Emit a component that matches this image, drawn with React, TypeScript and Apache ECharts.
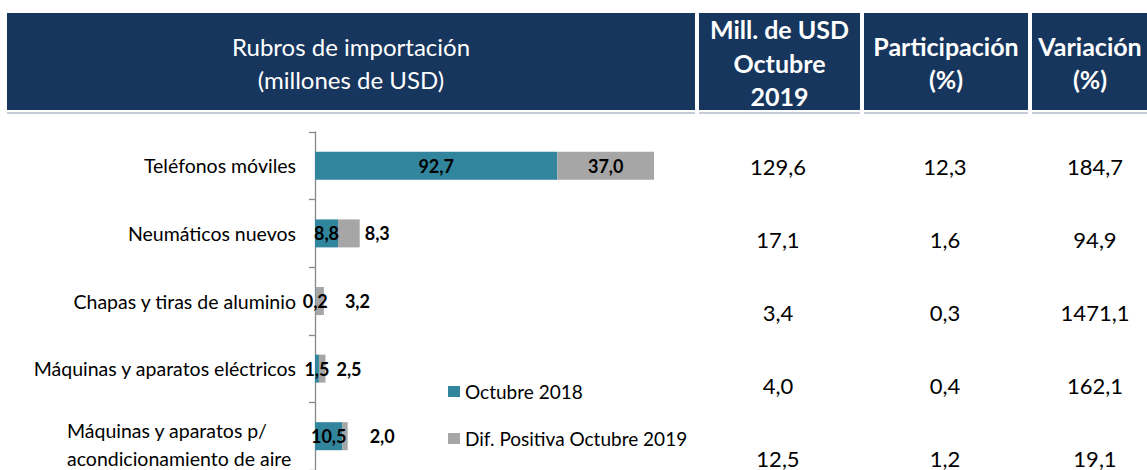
import React, { useEffect, useRef } from "react";
import * as echarts from "echarts";

const categories = [
  "Teléfonos móviles",
  "Neumáticos nuevos",
  "Chapas y tiras de aluminio",
  "Máquinas y aparatos eléctricos",
  "Máquinas y aparatos p/\nacondicionamiento de aire",
];
const octubre2018 = [92.7, 8.8, 0.2, 1.5, 10.5];
const difPositiva = [37.0, 8.3, 3.2, 2.5, 2.0];
const millOct2019 = [129.6, 17.1, 3.4, 4.0, 12.5];
const participacion = [12.3, 1.6, 0.3, 0.4, 1.2];
const variacion = [184.7, 94.9, 1471.1, 162.1, 19.1];
const seriesNames = ["Octubre 2018", "Dif. Positiva Octubre 2019"];
const headerLeft = ["Rubros de importación", "(millones de USD)"];
const headerMill = ["Mill. de USD", "Octubre", "2019"];
const headerPart = ["Participación", "(%)"];
const headerVar = ["Variación", "(%)"];

// styling / layout constants
const FONT = 'Lato, "Open Sans", "DejaVu Sans", sans-serif';
const NAVY = "#17365D";
const TEAL = "#31859C";
const GREY = "#A6A6A6";
const greyLabelDistance = [0, 5, 21, 11, 22];

const fmt = (v: number) => v.toFixed(1).replace(".", ",");

export default function App() {
  const ref = useRef<HTMLDivElement>(null);
  useEffect(() => {
    if (!ref.current) return;
    const chart = echarts.init(ref.current, null, { renderer: "svg" });

    const headerTop = 13;
    const headerBottom = 110;
    const cols = [
      { x0: 7, x1: 695, lines: headerLeft, weight: "normal", size: 24, lineH: 33 },
      { x0: 699, x1: 860, lines: headerMill, weight: "bold", size: 25, lineH: 33.5 },
      { x0: 864, x1: 1028, lines: headerPart, weight: "bold", size: 25, lineH: 33 },
      { x0: 1032, x1: 1160, lines: headerVar, weight: "bold", size: 25, lineH: 33 },
    ];
    const graphics: any[] = [];
    cols.forEach((c, ci) => {
      graphics.push({
        type: "rect",
        shape: { x: c.x0, y: headerTop, width: c.x1 - c.x0, height: headerBottom - headerTop },
        style: { fill: NAVY },
        silent: true,
      });
      graphics.push({
        type: "rect",
        shape: { x: c.x0, y: headerBottom + 2, width: c.x1 - c.x0, height: 2 },
        style: { fill: "#C5CCD8" },
        silent: true,
      });
      const n = c.lines.length;
      const cx = ci === 3 ? 1090 : (c.x0 + c.x1) / 2;
      const midY = (headerTop + headerBottom) / 2 + 1;
      c.lines.forEach((t, li) => {
        graphics.push({
          type: "text",
          x: cx,
          y: midY + (li - (n - 1) / 2) * c.lineH,
          style: {
            text: t,
            fill: "#FFFFFF",
            font: `${c.weight} ${c.size}px ${FONT}`,
            align: "center",
            verticalAlign: "middle",
          },
          silent: true,
        });
      });
    });

    const tableCols = [
      { cx: 778, vals: millOct2019 },
      { cx: 945, vals: participacion },
      { cx: 1095, vals: variacion },
    ];
    tableCols.forEach((tc) => {
      tc.vals.forEach((v, i) => {
        graphics.push({
          type: "text",
          x: tc.cx,
          y: 166 + i * 73,
          style: {
            text: fmt(v),
            fill: "#000",
            font: `normal 22px ${FONT}`,
            align: "center",
            verticalAlign: "middle",
          },
          silent: true,
        });
      });
    });

    const option: any = {
      animation: false,
      textStyle: { fontFamily: FONT },
      graphic: graphics,
      legend: {
        orient: "vertical",
        left: 443,
        top: 377,
        itemGap: 28,
        itemWidth: 12,
        itemHeight: 11,
        icon: "rect",
        textStyle: { color: "#000", fontSize: 19, fontFamily: FONT },
        data: seriesNames,
      },
      grid: { left: 315, top: 132, width: 366, height: 347, containLabel: false },
      xAxis: {
        type: "value",
        min: 0,
        max: 140,
        show: false,
      },
      yAxis: {
        type: "category",
        inverse: true,
        data: categories.map((c) =>
          c.includes("\n") ? { value: c, textStyle: { padding: [17, 0, 0, 0] } } : c
        ),
        axisLine: { show: true, lineStyle: { color: "#888888", width: 1.3 } },
        axisTick: { show: true, length: 6, lineStyle: { color: "#888888", width: 1.3 } },
        axisLabel: {
          margin: 19,
          color: "#000",
          fontSize: 19.5,
          fontFamily: FONT,
          formatter: (v: string) =>
            v.includes("\n")
              ? v
                  .split("\n")
                  .map((l) => `{l|${l}}`)
                  .join("\n")
              : v,
          rich: {
            l: {
              width: 229,
              align: "left",
              fontSize: 19.5,
              fontFamily: FONT,
              color: "#000",
              lineHeight: 28,
            },
          },
        },
      },
      series: [
        {
          name: seriesNames[0],
          type: "bar",
          stack: "total",
          barWidth: 28,
          itemStyle: { color: TEAL },
          label: {
            show: true,
            position: "inside",
            color: "#000",
            fontWeight: "bold",
            fontSize: 18,
            fontFamily: FONT,
            formatter: (p: any) => fmt(p.value),
          },
          data: octubre2018,
        },
        {
          name: seriesNames[1],
          type: "bar",
          stack: "total",
          barWidth: 28,
          itemStyle: { color: GREY },
          label: {
            show: true,
            color: "#000",
            fontWeight: "bold",
            fontSize: 18,
            fontFamily: FONT,
            formatter: (p: any) => fmt(p.value),
          },
          data: difPositiva.map((v, i) => ({
            value: v,
            label:
              i === 0
                ? { position: "inside" }
                : { position: "right", distance: greyLabelDistance[i] },
          })),
        },
      ],
    };
    chart.setOption(option);
    return () => chart.dispose();
  }, []);
  return (
    <div
      ref={ref}
      style={{ position: "fixed", left: 0, top: 0, width: 1147, height: 470, background: "#fff" }}
    />
  );
}
